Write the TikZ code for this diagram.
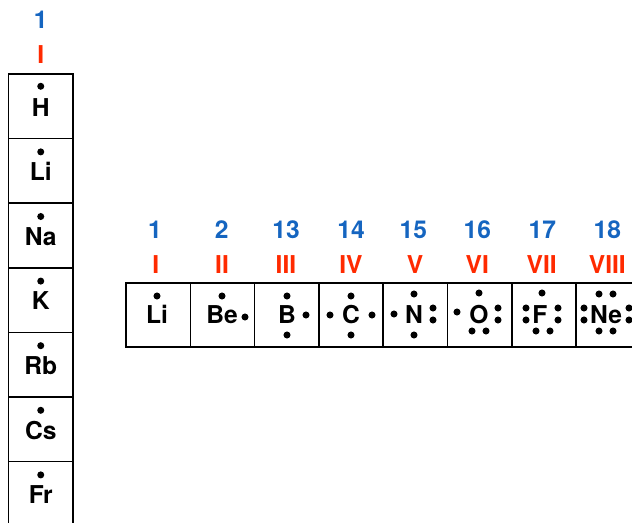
\documentclass[tikz,border=0pt]{standalone}
\usepackage{fontspec}
\setmainfont{TeX Gyre Heros}

\definecolor{grpblue}{RGB}{21,101,192}
\definecolor{grpred}{RGB}{255,42,0}

\tikzset{
  elbox/.style={draw, line width=0.8pt, minimum width=1.288cm, minimum height=1.288cm, inner sep=0pt},
  elsym/.style={inner sep=0pt, font=\fontsize{14}{14}\selectfont\bfseries, text height=10pt, text depth=0pt},
  grpnum/.style={inner sep=0pt, text=grpblue, font=\fontsize{14}{14}\selectfont\bfseries},
  grprom/.style={inner sep=0pt, text=grpred, font=\fontsize{14}{14}\selectfont\bfseries},
}

\begin{document}
\begin{tikzpicture}[x=0.02cm, y=-0.02cm]
\useasboundingbox (0,0) rectangle (632,523);

% group 1 column
\node[grpnum] (num-col) at (40.75, 20) {1};
\node[grprom] (rom-col) at (40.75, 55) {I};

\node[elbox] (box-h)  at (40.75, 106.3) {};
\node[elbox] (box-li) at (40.75, 170.9) {};
\node[elbox] (box-na) at (40.75, 235.5) {};
\node[elbox] (box-k)  at (40.75, 300.1) {};
\node[elbox] (box-rb) at (40.75, 364.7) {};
\node[elbox] (box-cs) at (40.75, 429.3) {};
\node[elbox] (box-fr) at (40.75, 493.9) {};

\node[elsym] (h)  at (40.75, 107.3) {H};
\node[elsym] (li) at (40.75, 171.9) {Li};
\node[elsym] (na) at (40.75, 236.5) {Na};
\node[elsym] (k)  at (40.75, 301.1) {K};
\node[elsym] (rb) at (40.75, 365.7) {Rb};
\node[elsym] (cs) at (40.75, 430.3) {Cs};
\node[elsym] (fr) at (40.75, 494.9) {Fr};

\fill (h.center)  ++(0,-21) circle (2pt);
\fill (li.center) ++(0,-20) circle (2pt);
\fill (na.center) ++(0,-20) circle (2pt);
\fill (k.center)  ++(0,-20) circle (2pt);
\fill (rb.center) ++(0,-20) circle (2pt);
\fill (cs.center) ++(0,-20) circle (2pt);
\fill (fr.center) ++(0,-20) circle (2pt);

% period 2 row
\node[grpnum] (num-1)  at (155, 229.5) {1};
\node[grpnum] (num-2)  at (221.7, 229.5) {2};
\node[grpnum] (num-13) at (286, 229.5) {13};
\node[grpnum] (num-14) at (351, 229.5) {14};
\node[grpnum] (num-15) at (413.3, 229.5) {15};
\node[grpnum] (num-16) at (477.3, 229.5) {16};
\node[grpnum] (num-17) at (542.3, 229.5) {17};
\node[grpnum] (num-18) at (607.3, 229.5) {18};

\node[grprom] (rom-1) at (155.7, 265) {I};
\node[grprom] (rom-2) at (222, 265) {II};
\node[grprom] (rom-3) at (286, 265) {III};
\node[grprom] (rom-4) at (351, 265) {IV};
\node[grprom] (rom-5) at (415, 265) {V};
\node[grprom] (rom-6) at (477.3, 265) {VI};
\node[grprom] (rom-7) at (541.7, 265) {VII};
\node[grprom] (rom-8) at (607.3, 265) {VIII};

\node[elbox] (box-li2) at (158.15, 315) {};
\node[elbox] (box-be)  at (222.45, 315) {};
\node[elbox] (box-b)   at (286.75, 315) {};
\node[elbox] (box-c)   at (351.05, 315) {};
\node[elbox] (box-n)   at (415.35, 315) {};
\node[elbox] (box-o)   at (479.65, 315) {};
\node[elbox] (box-f)   at (543.95, 315) {};
\node[elbox] (box-ne)  at (608.25, 315) {};

\node[elsym] (li2) at (157, 315) {Li};
\node[elsym] (be)  at (222, 315) {Be};
\node[elsym] (b)   at (287, 315) {B};
\node[elsym] (c)   at (351, 315) {C};
\node[elsym] (n)   at (414, 315) {N};
\node[elsym] (o)   at (479, 315) {O};
\node[elsym] (f)   at (540, 315) {F};
\node[elsym] (ne)  at (606, 315) {Ne};

% valence dots
\fill (li2.center) ++(0,-19) circle (2pt);

\fill (be.center) ++(0,-19) circle (2pt);
\fill (be.center) ++(23,2) circle (2pt);

\fill (b.center) ++(0,-19) circle (2pt);
\fill (b.center) ++(19,0) circle (2pt);
\fill (b.center) ++(0,20) circle (2pt);

\fill (c.center) ++(0,-19) circle (2pt);
\fill (c.center) ++(0,20) circle (2pt);
\fill (c.center) ++(-21,0) circle (2pt);
\fill (c.center) ++(21,0) circle (2pt);

\fill (n.center) ++(0,-21) circle (2pt);
\fill (n.center) ++(0,20) circle (2pt);
\fill (n.center) ++(-20,-1) circle (2pt);
\fill (n.center) ++(19,-7) circle (2pt);
\fill (n.center) ++(19,5) circle (2pt);

\fill (o.center) ++(0,-22) circle (2pt);
\fill (o.center) ++(-22,-3) circle (2pt);
\fill (o.center) ++(19,-7) circle (2pt);
\fill (o.center) ++(19,5) circle (2pt);
\fill (o.center) ++(-7,16) circle (2pt);
\fill (o.center) ++(7,16) circle (2pt);

\fill (f.center) ++(2,-22) circle (2pt);
\fill (f.center) ++(-14,-7) circle (2pt);
\fill (f.center) ++(-14,5) circle (2pt);
\fill (f.center) ++(18,-7) circle (2pt);
\fill (f.center) ++(18,5) circle (2pt);
\fill (f.center) ++(-4,16) circle (2pt);
\fill (f.center) ++(10,16) circle (2pt);

\fill (ne.center) ++(-7,-21) circle (2pt);
\fill (ne.center) ++(7,-21) circle (2pt);
\fill (ne.center) ++(-22,-7) circle (2pt);
\fill (ne.center) ++(-22,5) circle (2pt);
\fill (ne.center) ++(23,-7) circle (2pt);
\fill (ne.center) ++(23,5) circle (2pt);
\fill (ne.center) ++(-7,16) circle (2pt);
\fill (ne.center) ++(7,16) circle (2pt);

\end{tikzpicture}
\end{document}
